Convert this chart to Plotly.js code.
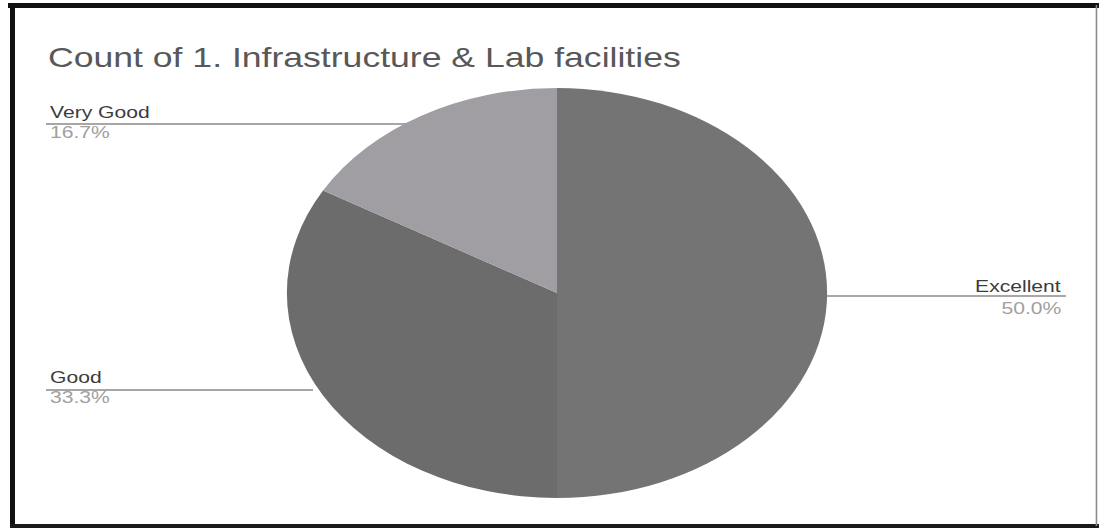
<!DOCTYPE html>
<html>
<head>
<meta charset="utf-8">
<script src="https://cdn.plot.ly/plotly-3.0.1.min.js"></script>
<style>
  html, body { margin: 0; padding: 0; background: #ffffff; overflow: hidden; }
  #wrap { width: 1099px; height: 532px; overflow: hidden; position: relative; }
  /* The reference is a horizontally stretched scan; draw at base width and stretch */
  #chart { width: 834px; height: 532px; transform: scaleX(1.3177); transform-origin: 0 0; }
</style>
</head>
<body>
<div id="wrap"><div id="chart"></div></div>
<script>
// ---- data ----
const chartTitle = "Count of 1. Infrastructure & Lab facilities";
const categories = ["Excellent", "Good", "Very Good"];
const counts = [3, 2, 1];
const sliceColors = ["#747474", "#6c6c6c", "#a09ea2"];

const total = counts.reduce((a, b) => a + b, 0);
const pct = counts.map(v => (100 * v / total).toFixed(1) + "%");

// reference-pixel helpers (reference image is 1099 x 532)
const W = 1099, H = 532;
const px = x => x / W;
const py = y => 1 - y / H;

// label placement (reference pixels): [nameX, nameY, pctY, anchor, lineX0, lineX1, lineY]
const labelPos = {
  "Excellent": [1064, 286, 308, "right", 826, 1066, 296],
  "Good":      [48, 377, 397, "left", 46, 313, 390],
  "Very Good": [48, 112, 132, "left", 46, 430, 124]
};

const annotations = [];
const shapes = [];
categories.forEach((c, i) => {
  const p = labelPos[c];
  annotations.push({
    xref: "paper", yref: "paper", x: px(p[0]), y: py(p[1]),
    xanchor: p[3], yanchor: "middle", showarrow: false,
    text: c, font: { family: "Liberation Sans, Arial, sans-serif", size: 16, color: "#3c3c3c" }
  });
  annotations.push({
    xref: "paper", yref: "paper", x: px(p[0]), y: py(p[2]),
    xanchor: p[3], yanchor: "middle", showarrow: false,
    text: pct[i], font: { family: "Liberation Sans, Arial, sans-serif", size: 16, color: "#a0a0a0" }
  });
  shapes.push({
    type: "line", xref: "paper", yref: "paper",
    x0: px(p[4]), x1: px(p[5]), y0: py(p[6]), y1: py(p[6]),
    line: { color: "#8a8a8a", width: 1.5 }, layer: "below"
  });
});

// frame of the scanned chart
shapes.push({ type: "line", xref: "paper", yref: "paper", x0: px(8), x1: px(1099), y0: py(5.5), y1: py(5.5), line: { color: "#111", width: 5 } });
shapes.push({ type: "line", xref: "paper", yref: "paper", x0: px(12.5), x1: px(12.5), y0: py(3), y1: py(528), line: { color: "#111", width: 3.8 } });
shapes.push({ type: "line", xref: "paper", yref: "paper", x0: px(10), x1: px(1099), y0: py(526), y1: py(526), line: { color: "#1a1a1a", width: 4 } });
shapes.push({ type: "line", xref: "paper", yref: "paper", x0: px(1096.5), x1: px(1096.5), y0: py(5), y1: py(526), line: { color: "#8a8a8a", width: 1.2 } });

// pie: center (557, 293) ref px, vertical radius 205
const baseW = 834;
const cx = 557 / 1.3177, r = 205, cy = 293;
const trace = {
  type: "pie",
  labels: categories,
  values: counts,
  sort: false,
  direction: "clockwise",
  rotation: 0,
  textinfo: "none",
  hoverinfo: "label+value+percent",
  marker: { colors: sliceColors, line: { width: 0 } },
  showlegend: false,
  domain: { x: [(cx - r) / baseW, (cx + r) / baseW], y: [1 - (cy + r) / H, 1 - (cy - r) / H] }
};

const layout = {
  width: baseW, height: H,
  margin: { l: 0, r: 0, t: 0, b: 0 },
  paper_bgcolor: "#ffffff",
  plot_bgcolor: "#ffffff",
  showlegend: false,
  title: {
    text: chartTitle,
    x: px(48), xanchor: "left", xref: "paper",
    y: py(58), yanchor: "middle", yref: "paper",
    font: { family: "Liberation Sans, Arial, sans-serif", size: 27, color: "#585858" }
  },
  annotations: annotations,
  shapes: shapes
};

Plotly.newPlot("chart", [trace], layout, { displayModeBar: false, staticPlot: true });
</script>
</body>
</html>
